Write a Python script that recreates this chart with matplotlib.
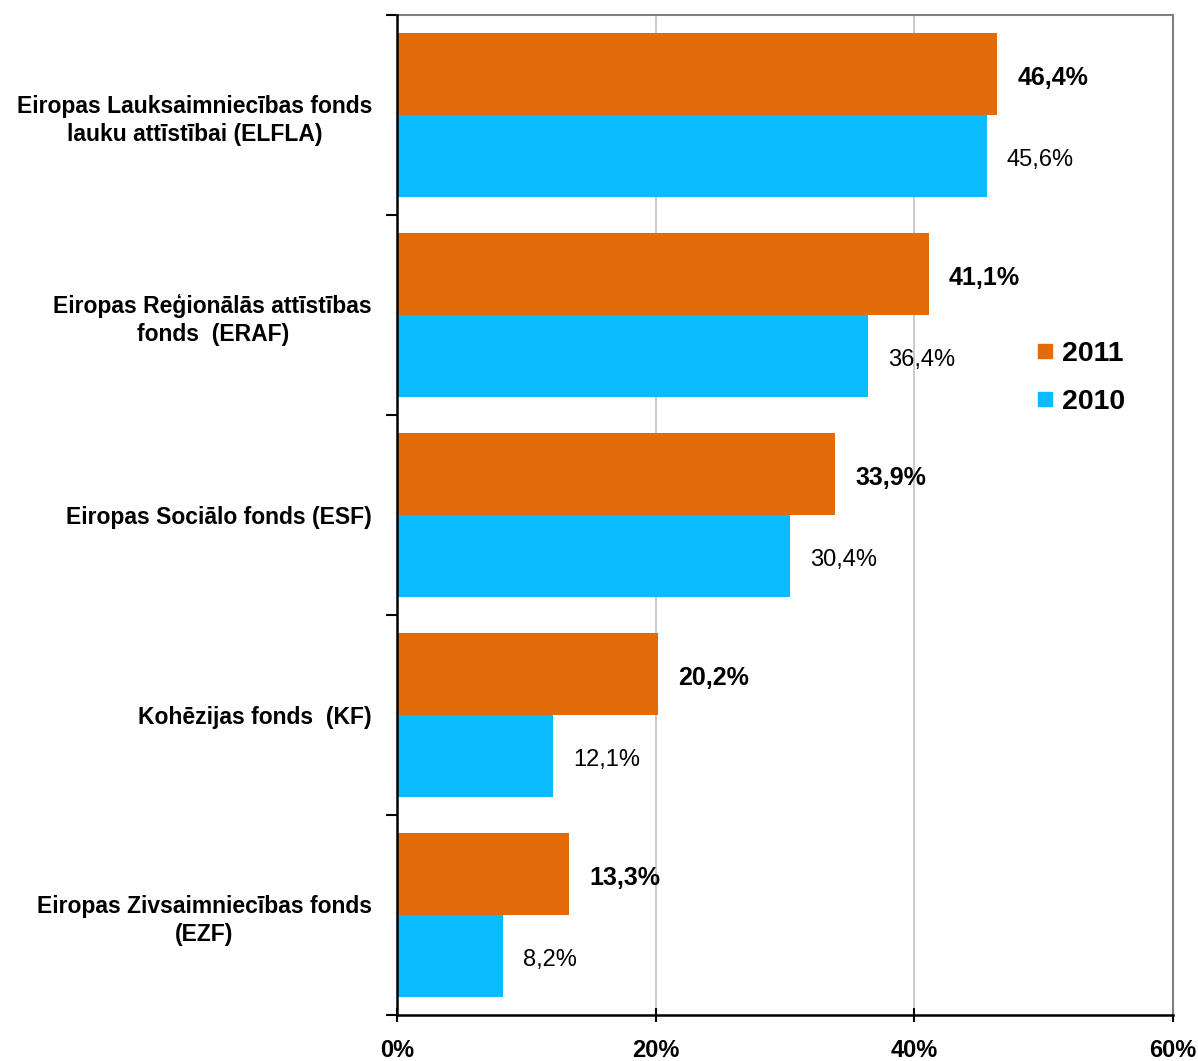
import numpy as np
import matplotlib
matplotlib.use("Agg")
from matplotlib import pyplot as plt
from matplotlib.lines import Line2D

categories = [
    "Eiropas Lauksaimniecības fonds\nlauku attīstībai (ELFLA)",
    "Eiropas Reģionālās attīstības\nfonds  (ERAF)",
    "Eiropas Sociālo fonds (ESF)",
    "Kohēzijas fonds  (KF)",
    "Eiropas Zivsaimniecības fonds\n(EZF)",
]
values_2011 = [46.4, 41.1, 33.9, 20.2, 13.3]
values_2010 = [45.6, 36.4, 30.4, 12.1, 8.2]
xticks = [0, 20, 40, 60]

c2011 = "#e36c0a"
c2010 = "#08bcff"

plt.rcParams['font.family'] = ['Liberation Sans', 'DejaVu Sans']

fig = plt.figure(figsize=(11.98, 10.61), dpi=100)
ax = fig.add_axes([397 / 1198, 46 / 1061, 776 / 1198, 1000 / 1061])

y = np.arange(len(categories))
h = 0.41
ax.barh(y - h / 2, values_2011, height=h, color=c2011, zorder=3)
ax.barh(y + h / 2, values_2010, height=h, color=c2010, zorder=3)

for yi, v in zip(y, values_2011):
    ax.text(v + 1.55, yi - h / 2 + 0.02, f"{v:.1f}%".replace(".", ","),
            va="center", ha="left", fontsize=18, fontweight="bold")
for yi, v in zip(y, values_2010):
    ax.text(v + 1.55, yi + h / 2 + 0.02, f"{v:.1f}%".replace(".", ","),
            va="center", ha="left", fontsize=17)

ax.set_xlim(0, 60)
ax.set_ylim(len(categories) - 0.5, -0.5)
ax.set_xticks(xticks)
ax.set_xticklabels([f"{t}%" for t in xticks], fontsize=17, fontweight="bold")
ax.tick_params(axis="x", direction="inout", length=10, width=1.5, pad=12)

ax.set_yticks(np.arange(len(categories) + 1) - 0.5)
ax.set_yticklabels([])
ax.set_yticks(y, minor=True)
ax.set_yticklabels(categories, minor=True, fontsize=16.5, fontweight="bold",
                   ha="right", multialignment="center", linespacing=1.28)
ax.tick_params(axis="y", which="minor", length=0, pad=18)
ax.tick_params(axis="y", which="major", direction="out", length=8, width=1.5)

ax.xaxis.grid(True, color="#c0c0c0", linewidth=1.2, zorder=0)
ax.set_axisbelow(True)

for side in ["left", "bottom"]:
    ax.spines[side].set_color("black")
    ax.spines[side].set_linewidth(1.8)
    ax.spines[side].set_zorder(5)
for side in ["top", "right"]:
    ax.spines[side].set_color("#808080")
    ax.spines[side].set_linewidth(1.5)

handles = [
    Line2D([], [], marker="s", color="none", markerfacecolor=c2011,
           markeredgecolor=c2011, markersize=10, label="2011"),
    Line2D([], [], marker="s", color="none", markerfacecolor=c2010,
           markeredgecolor=c2010, markersize=10, label="2010"),
]
ax.legend(handles=handles, loc="center left", bbox_to_anchor=(0.789, 0.637),
          frameon=False, prop={"size": 20.5, "weight": "bold"},
          handlelength=0.7, handletextpad=0.25, labelspacing=0.75)

fig.savefig("out.png", dpi=100)
